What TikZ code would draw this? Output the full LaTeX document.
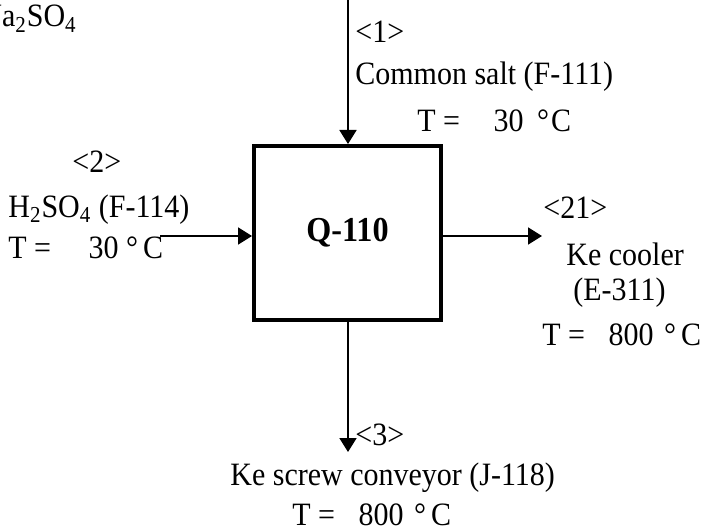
\documentclass[tikz,border=0pt]{standalone}
\usepackage{fontspec}
\setmainfont{Liberation Serif}[FakeStretch=0.92]
\usetikzlibrary{positioning, arrows.meta}

\begin{document}
\begin{tikzpicture}[x=0.5pt, y=-0.5pt]
\tikzset{
    every node/.style={inner sep=0pt, font=\fontsize{16.3}{19}\selectfont},
    unit/.style={draw, line width=2pt, minimum width=93.5pt, minimum height=87pt,
        font=\fontsize{17.5}{20}\selectfont\bfseries},
    stream/.style={line width=0.9pt, -{Triangle[length=7pt, width=8.5pt]}},
    lbl/.style={anchor=base west}
}
\useasboundingbox (0,0) rectangle (705,529);

% separator unit
\node[unit] (q) at (347.5,233) {Q-110};

% stream end points
\coordinate (in1) at (348,0);
\coordinate (in2) at (160,236);
\coordinate (out21) at (542,236);
\coordinate (out3) at (348,452);

\draw[stream] (in1) -- (in1 |- q.north);
\draw[stream] (in2) -- (in2 -| q.west);
\draw[stream] (out21 -| q.east) -- (out21);
\draw[stream] (q.south -| out3) -- (out3);

% stream labels
\node[lbl] (na) at (-20,27) {Na\textsubscript{2}SO\textsubscript{4}};

\node[lbl] (n1) at (355,43) {\textless1\textgreater};
\node[lbl] (f1) at (355,85) {Common salt (F-111)};
\node[lbl] (t1) at (417,132) {T =\hspace{13pt} 30\hspace{3pt} °\hspace{1pt}C};

\node[lbl] (n2) at (72,173) {\textless2\textgreater};
\node[lbl] (f2) at (8,217) {H\textsubscript{2}SO\textsubscript{4} (F-114)};
\node[lbl] (t2) at (8,258) {T =\hspace{15pt} 30 °\hspace{2.5pt}C};

\node[lbl] (n21) at (543,218) {\textless21\textgreater};
\node[lbl] (f21a) at (566,265) {Ke cooler};
\node[lbl] (f21b) at (573,300) {(E-311)};
\node[lbl] (t21) at (542,345) {T =\hspace{8pt} 800\hspace{1.5pt} °\hspace{2.5pt}C};

\node[lbl] (n3) at (355,445) {\textless3\textgreater};
\node[lbl] (f3) at (230,485) {Ke screw conveyor (J-118)};
\node[lbl] (t3) at (292,525) {T =\hspace{8pt} 800\hspace{1.5pt} °\hspace{2.5pt}C};
\end{tikzpicture}
\end{document}
